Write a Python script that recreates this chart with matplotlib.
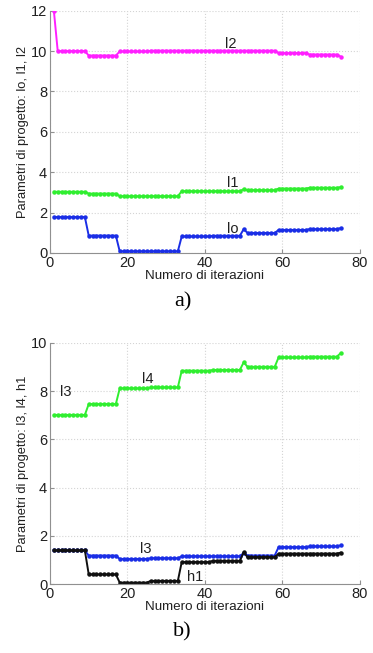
import numpy as np
import matplotlib
matplotlib.use('Agg')
import matplotlib.pyplot as plt

# --- data ---
iters = np.arange(1, 76)

def steps(pairs):
    # pairs of (n_points, value)
    out = []
    for n, v in pairs:
        out += [v] * n
    return out

l2 = steps([(1, 12.0), (8, 10.0), (8, 9.78), (8, 9.98), (33, 10.02),
            (8, 9.9), (8, 9.83), (1, 9.73)])
l1 = steps([(9, 3.03), (8, 2.94), (16, 2.81), (16, 3.06), (1, 3.16),
            (8, 3.11), (8, 3.19), (8, 3.23), (1, 3.26)])
lo = steps([(9, 1.78), (8, 0.86), (16, 0.08), (8, 0.82), (8, 0.85), (1, 1.18),
            (8, 0.99), (8, 1.14), (8, 1.18), (1, 1.23)])

l4 = steps([(9, 7.01), (8, 7.46), (8, 8.11), (8, 8.15), (8, 8.84), (8, 8.87),
            (1, 9.19), (8, 9.0), (8, 9.39), (8, 9.42), (1, 9.56)])
l3 = steps([(9, 1.40), (8, 1.19), (8, 1.05), (8, 1.08), (16, 1.16), (1, 1.30),
            (8, 1.19), (8, 1.54), (8, 1.57), (1, 1.61)])
h1 = steps([(9, 1.40), (8, 0.41), (8, 0.07), (8, 0.14), (8, 0.92), (8, 0.97),
            (1, 1.33), (8, 1.12), (8, 1.27), (8, 1.27), (1, 1.31)])

plt.rcParams['font.family'] = ['Liberation Sans', 'DejaVu Sans']

fig = plt.figure(figsize=(3.73, 6.53), dpi=100)
ax1 = fig.add_axes([0.134, 0.6126, 0.831, 0.371])
ax2 = fig.add_axes([0.134, 0.1052, 0.831, 0.370])

def style(ax, ylim, yticks, ylabel):
    ax.set_xlim(0, 80)
    ax.set_ylim(*ylim)
    ax.set_xticks([0, 20, 40, 60, 80])
    ax.set_yticks(yticks)
    ax.grid(True, linestyle=':', color='#d4d4d4', linewidth=0.8)
    for s in ['top', 'right']:
        ax.spines[s].set_visible(False)
    for s in ['left', 'bottom']:
        ax.spines[s].set_color('#909090')
        ax.spines[s].set_linewidth(0.8)
    ax.tick_params(direction='in', length=3, color='#909090',
                   labelsize=10.5, labelcolor='#202020', pad=2)
    ax.set_xlabel('Numero di iterazioni', fontsize=9.6, color='#202020', labelpad=0)
    ax.set_ylabel(ylabel, fontsize=9.3, color='#202020', labelpad=1)

mk = dict(marker='o', markersize=2.2, linewidth=1.4)

ax1.plot(iters, l2, color='#ff20ff', **mk)
ax1.plot(iters, l1, color='#30ee30', **mk)
ax1.plot(iters, lo, color='#1a2ee6', **mk)
ax1.text(45.2, 10.15, 'l2', fontsize=10.5, color='#202020')
ax1.text(45.8, 3.25, 'l1', fontsize=10.5, color='#202020')
ax1.text(45.8, 1.0, 'lo', fontsize=10.5, color='#202020')
style(ax1, (0, 12), range(0, 13, 2), 'Parametri di progetto: lo, l1, l2')

ax2.plot(iters, l4, color='#30ee30', **mk)
ax2.plot(iters, l3, color='#1a2ee6', **mk)
ax2.plot(iters, h1, color='#101010', **mk)
ax2.text(2.6, 7.8, 'l3', fontsize=10.5, color='#202020')
ax2.text(23.8, 8.35, 'l4', fontsize=10.5, color='#202020')
ax2.text(23.3, 1.3, 'l3', fontsize=10.5, color='#202020')
ax2.text(35.3, 0.12, 'h1', fontsize=10.5, color='#202020')
style(ax2, (0, 10), range(0, 11, 2), 'Parametri di progetto: l3, l4, h1')

fig.text(0.49, 0.537, 'a)', fontsize=16, family='Liberation Serif', ha='center', va='center')
fig.text(0.49, 0.032, 'b)', fontsize=16, family='Liberation Serif', ha='center', va='center')

fig.savefig('out.png', dpi=100)
